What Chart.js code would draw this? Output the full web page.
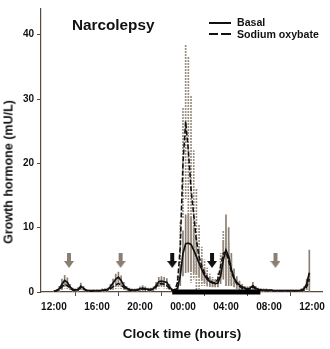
<!DOCTYPE html>
<html>
<head>
<meta charset="utf-8">
<script src="https://cdn.jsdelivr.net/npm/chart.js@4"></script>
<style>
  html, body { margin: 0; padding: 0; background: #fff; }
  #wrap { position: relative; width: 330px; height: 349px; font-family: "Liberation Sans", Arial, sans-serif; font-weight: bold; color: #111; }
  #c { position: absolute; left: 0; top: 0; }
  .title { position: absolute; left: 72px; top: 16px; font-size: 15.3px; line-height: 17px; }
  .ytitle { position: absolute; left: 9px; top: 172px; transform: translate(-50%, -50%) rotate(-90deg); font-size: 12.5px; line-height: 15px; white-space: nowrap; }
  .leg { position: absolute; left: 237px; font-size: 10.6px; line-height: 12px; white-space: nowrap; }
  .sw { position: absolute; height: 2px; background: #111; }
</style>
</head>
<body>
<div id="wrap">
  <canvas id="c" width="330" height="349"></canvas>
  <div class="title">Narcolepsy</div>
  <div class="ytitle">Growth hormone (mU/L)</div>
  <div class="sw" style="left:209px; top:22px; width:22px;"></div>
  <div class="leg" style="top:16px;">Basal</div>
  <div class="sw" style="left:209px; top:33px; width:9px;"></div>
  <div class="sw" style="left:221px; top:33px; width:10px;"></div>
  <div class="leg" style="top:28px;">Sodium oxybate</div>
</div>
<script>
// sampling clock, hours from noon (24 = midnight, 36 = next noon)
const times = [
  12, 12.25, 12.5, 12.75,  13, 13.25, 13.5, 13.75,  14, 14.25, 14.5, 14.75,
  15, 15.25, 15.5, 15.75,  16, 16.25, 16.5, 16.75,  17, 17.25, 17.5, 17.75,
  18, 18.25, 18.5, 18.75,  19, 19.25, 19.5, 19.75,  20, 20.25, 20.5, 20.75,
  21, 21.25, 21.5, 21.75,  22, 22.25, 22.5, 22.75,  23, 23.25, 23.5, 23.75,
  24, 24.25, 24.5, 24.75,  25, 25.25, 25.5, 25.75,  26, 26.25, 26.5, 26.75,
  27, 27.25, 27.5, 27.75,  28, 28.25, 28.5, 28.75,  29, 29.25, 29.5, 29.75,
  30, 30.25, 30.5, 30.75,  31, 31.25, 31.5, 31.75,  32, 32.25, 32.5, 32.75,
  33, 33.25, 33.5, 33.75,  34, 34.25, 34.5, 34.75,  35, 35.25, 35.5, 35.75
];

const basal = [
  0.1, 0.2, 0.5, 1.2,   1.8, 1.5, 0.8, 0.4,   0.3, 0.4, 0.9, 0.6,
  0.3, 0.2, 0.2, 0.2,   0.2, 0.2, 0.3, 0.3,   0.4, 0.8, 1.4, 2.0,
  2.3, 1.8, 1.0, 0.6,   0.4, 0.3, 0.3, 0.3,   0.5, 0.6, 0.5, 0.4,
  0.4, 0.5, 1.0, 1.6,   1.7, 1.6, 1.5, 0.8,   0.3, 0.3, 0.6, 2.5,
  6.0, 7.5, 7.6, 7.4,   6.5, 5.5, 4.5, 3.5,   2.6, 2.0, 1.6, 1.4,
  1.3, 1.4, 2.5, 5.0,   6.5, 5.5, 3.5, 2.2,   1.5, 1.1, 0.8, 0.6,
  0.5, 0.6, 1.0, 0.6,   0.4, 0.3, 0.3, 0.3,   0.3, 0.3, 0.2, 0.2,
  0.2, 0.2, 0.2, 0.2,   0.2, 0.2, 0.2, 0.2,   0.3, 0.5, 1.2, 3.0
];
const basalSem = [
  0.1, 0.2, 0.4, 0.8,   0.8, 0.7, 0.4, 0.2,   0.2, 0.3, 0.5, 0.3,
  0.1, 0.1, 0.1, 0.1,   0.1, 0.1, 0.2, 0.2,   0.2, 0.4, 0.6, 0.8,
  0.8, 0.7, 0.5, 0.3,   0.2, 0.2, 0.2, 0.2,   0.3, 0.4, 0.3, 0.2,
  0.2, 0.3, 0.5, 0.7,   0.7, 0.7, 0.6, 0.4,   0.2, 0.2, 0.4, 1.5,
  3.5, 4.5, 4.5, 4.2,   3.5, 2.8, 2.2, 1.6,   1.2, 0.9, 0.7, 0.6,
  0.5, 0.6, 1.2, 3.0,   5.5, 4.5, 2.5, 1.4,   0.9, 0.6, 0.4, 0.3,
  0.3, 0.3, 0.5, 0.3,   0.2, 0.2, 0.2, 0.2,   0.1, 0.1, 0.1, 0.1,
  0.1, 0.1, 0.1, 0.1,   0.1, 0.1, 0.1, 0.1,   0.2, 0.3, 0.8, 3.5
];

const oxybate = [
  0.1, 0.2, 0.4, 0.8,   1.2, 1.0, 0.6, 0.3,   0.2, 0.3, 0.7, 0.5,
  0.2, 0.2, 0.1, 0.2,   0.2, 0.2, 0.2, 0.3,   0.3, 0.5, 0.8, 1.1,
  1.3, 1.1, 0.7, 0.4,   0.3, 0.2, 0.2, 0.3,   0.4, 0.5, 0.4, 0.3,
  0.3, 0.4, 0.8, 1.2,   1.3, 1.2, 1.0, 0.5,   0.2, 0.3, 1.5, 7.0,
  20.0, 26.5, 22.0, 16.0,   12.0, 8.0, 5.5, 4.0,   3.0, 2.3, 1.8, 1.5,
  1.4, 2.0, 4.0, 6.0,   6.3, 4.8, 3.2, 2.0,   1.3, 0.9, 0.6, 0.5,
  0.4, 0.5, 0.8, 0.5,   0.3, 0.3, 0.2, 0.2,   0.2, 0.2, 0.2, 0.2,
  0.2, 0.2, 0.2, 0.2,   0.2, 0.2, 0.2, 0.2,   0.2, 0.3, 0.8, 2.0
];
const oxybateSem = [
  0.1, 0.1, 0.3, 0.5,   0.6, 0.5, 0.3, 0.2,   0.1, 0.2, 0.4, 0.3,
  0.1, 0.1, 0.1, 0.1,   0.1, 0.1, 0.1, 0.2,   0.2, 0.3, 0.5, 0.6,
  0.7, 0.6, 0.4, 0.2,   0.1, 0.1, 0.1, 0.2,   0.2, 0.3, 0.2, 0.2,
  0.2, 0.2, 0.4, 0.6,   0.6, 0.6, 0.5, 0.3,   0.1, 0.2, 1.0, 4.0,
  8.6, 12.0, 14.5, 14.5,   10.0, 8.0, 5.0, 3.0,   2.0, 1.4, 1.0, 0.8,
  0.7, 1.0, 2.0, 3.5,   3.8, 3.0, 2.0, 1.2,   0.8, 0.6, 0.4, 0.3,
  0.3, 0.3, 0.4, 0.3,   0.2, 0.2, 0.2, 0.2,   0.1, 0.1, 0.1, 0.1,
  0.1, 0.1, 0.1, 0.1,   0.1, 0.1, 0.1, 0.1,   0.1, 0.2, 0.5, 1.0
];

const tickHours = [12, 16, 20, 24, 28, 32, 36];
const yTicks = [0, 10, 20, 30, 40];
const mealTimes = [13.4, 18.2, 32.6];   // grey arrows
const doseTimes = [23.0, 26.7];         // black arrows
const arrowLevel = 4.9;
const sleepStart = 23.0, sleepEnd = 31.2;

const axisColor = '#5b4a3c';
const barGrey = '#8b7e72';
const barLight = '#9c8f82';
const fontFam = '"Liberation Sans", Arial, sans-serif';

function arrowImg(color) {
  const c = document.createElement('canvas');
  c.width = 10; c.height = 15;
  const g = c.getContext('2d');
  g.fillStyle = color;
  g.beginPath();
  g.moveTo(3, 0); g.lineTo(7, 0); g.lineTo(7, 8); g.lineTo(10, 8);
  g.lineTo(5, 15); g.lineTo(0, 8); g.lineTo(3, 8);
  g.closePath(); g.fill();
  return c;
}

// dotted fill for the oxybate error bars
function dotted(color) {
  const c = document.createElement('canvas');
  c.width = 1; c.height = 3;
  const g = c.getContext('2d');
  g.fillStyle = color;
  g.fillRect(0, 0, 1, 2);
  return g.createPattern(c, 'repeat');
}

const pts = vals => times.map((t, i) => ({x: t, y: vals[i]}));
const errs = (vals, sem) => times.map((t, i) => ({x: t, y: [Math.max(0, vals[i] - sem[i]), vals[i] + sem[i]]}));

new Chart(document.getElementById('c'), {
  type: 'line',
  data: {
    datasets: [
      {
        type: 'bar', data: errs(basal, basalSem), backgroundColor: barGrey,
        barThickness: 1, grouped: false, borderWidth: 0, order: 4
      },
      {
        type: 'bar', data: errs(oxybate, oxybateSem), backgroundColor: dotted(barLight),
        barThickness: 1, grouped: false, borderWidth: 0, order: 3
      },
      {
        label: 'Basal', data: pts(basal), borderColor: '#111', borderWidth: 1.7,
        pointRadius: 0, tension: 0, order: 2
      },
      {
        label: 'Sodium oxybate', data: pts(oxybate), borderColor: '#111', borderWidth: 1.6,
        borderDash: [5, 2], pointRadius: 0, tension: 0, order: 1
      },
      {
        data: [{x: sleepStart, y: 0}, {x: sleepEnd, y: 0}], borderColor: '#000',
        borderWidth: 5, borderCapStyle: 'butt', pointRadius: 0, clip: false, order: 0
      },
      {
        type: 'scatter', data: mealTimes.map(t => ({x: t, y: arrowLevel})),
        pointStyle: arrowImg(barGrey), order: 0
      },
      {
        type: 'scatter', data: doseTimes.map(t => ({x: t, y: arrowLevel})),
        pointStyle: arrowImg('#111'), order: 0
      }
    ]
  },
  options: {
    responsive: false,
    animation: false,
    layout: {padding: {top: 8, right: 5, left: 0, bottom: 0}},
    plugins: {legend: {display: false}, tooltip: {enabled: false}},
    scales: {
      x: {
        type: 'linear', min: 10.8, max: 37, offset: false,
        grid: {drawOnChartArea: false, drawTicks: true, tickLength: 4, tickColor: axisColor},
        border: {color: axisColor, width: 1.2},
        afterBuildTicks: s => { s.ticks = tickHours.map(v => ({value: v})); },
        ticks: {
          autoSkip: false, maxRotation: 0, padding: 5, color: '#111',
          font: {family: fontFam, size: 10, weight: 'bold'},
          callback: v => String(v % 24).padStart(2, '0') + ':00'
        },
        title: {
          display: true, text: 'Clock time (hours)', color: '#111',
          font: {family: fontFam, size: 13.5, weight: 'bold'}, padding: {top: 0, bottom: 7}
        },
        afterFit: s => { s.height = 57; }
      },
      y: {
        min: 0, max: 44,
        grid: {drawOnChartArea: false, drawTicks: true, tickLength: 4, tickColor: axisColor},
        border: {color: axisColor, width: 1.2},
        afterBuildTicks: s => { s.ticks = yTicks.map(v => ({value: v})); },
        ticks: {
          padding: 3, color: '#111',
          font: {family: fontFam, size: 10, weight: 'bold'}
        },
        afterFit: s => { s.width = 41; }
      }
    }
  }
});
</script>
</body>
</html>
